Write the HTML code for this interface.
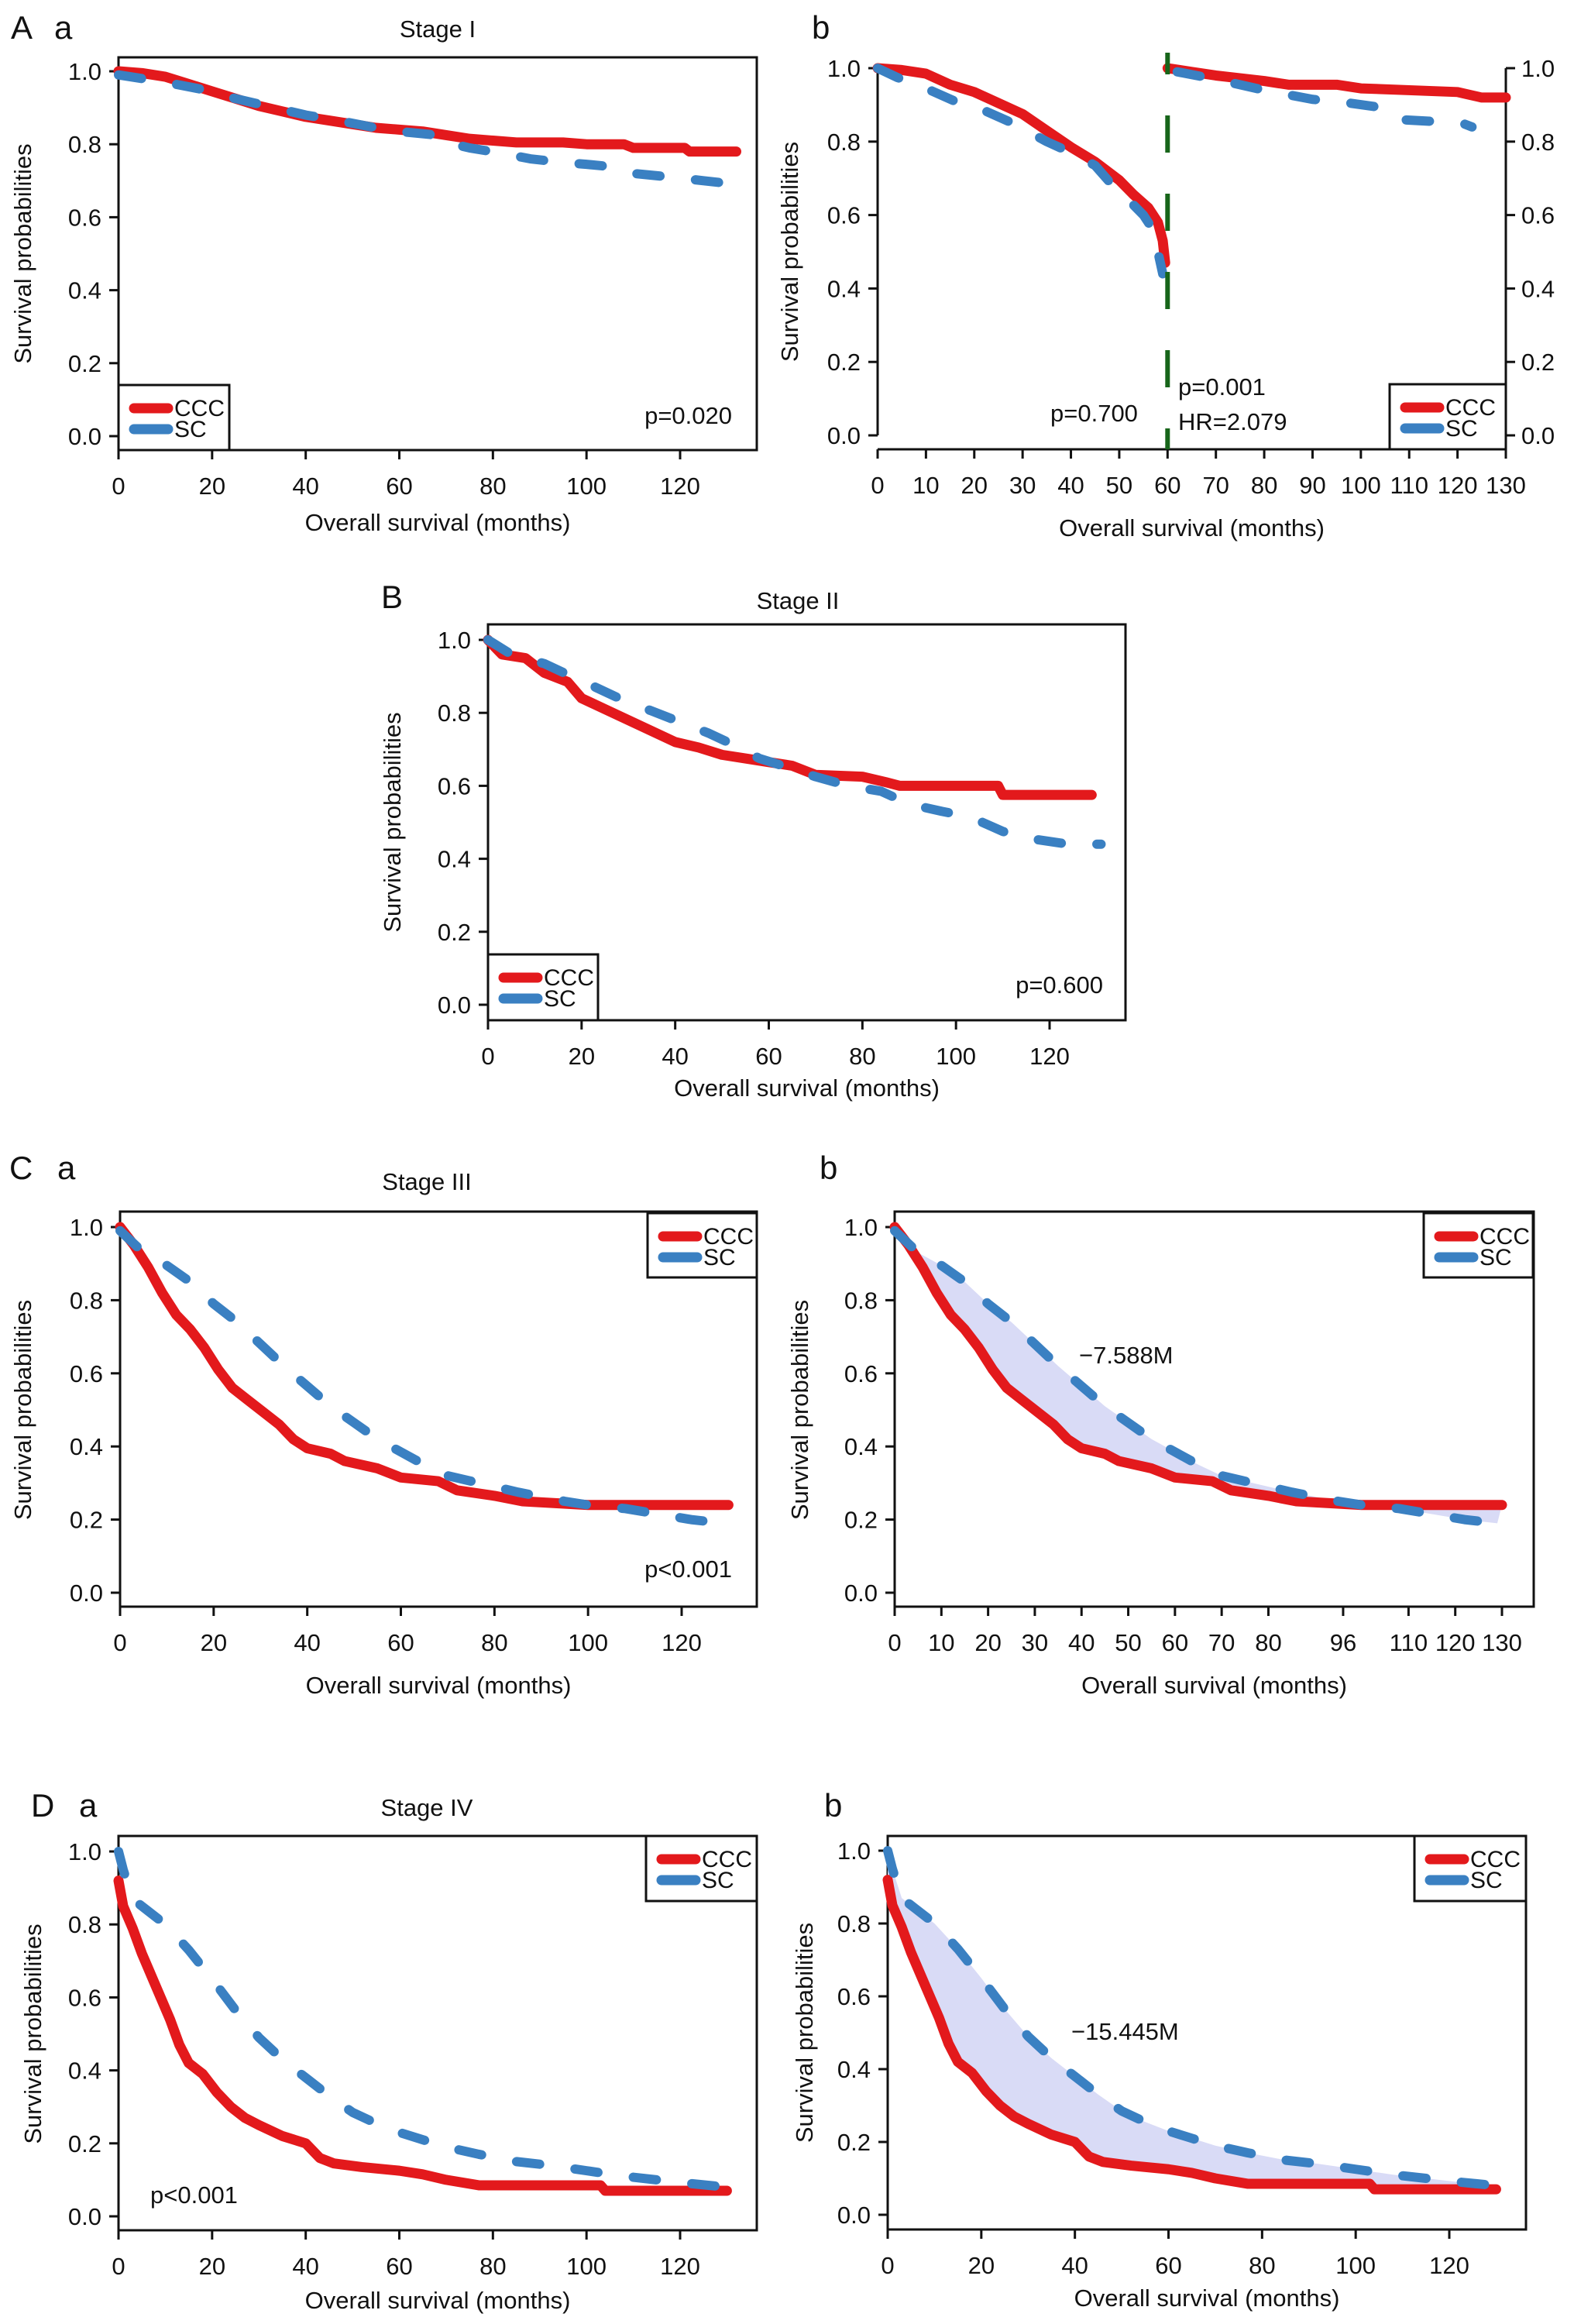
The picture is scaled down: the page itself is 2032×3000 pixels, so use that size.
<!DOCTYPE html>
<html><head><meta charset="utf-8"><style>
html,body{margin:0;padding:0;background:#fff;}
svg{display:block;font-family:"Liberation Sans",Arial,sans-serif;}
</style></head><body>
<svg id="fig" width="2032" height="3000" viewBox="0 0 2032 3000" xmlns="http://www.w3.org/2000/svg">
<rect x="0" y="0" width="2032" height="3000" fill="#fff"/>
<g font-size="42" fill="#111">
<text x="14" y="50">A</text>
<text x="70" y="50">a</text>
<text x="1048" y="50">b</text>
<text x="492" y="785">B</text>
<text x="12" y="1522">C</text>
<text x="74" y="1522">a</text>
<text x="1058" y="1522">b</text>
<text x="40" y="2345">D</text>
<text x="102" y="2345">a</text>
<text x="1064" y="2345">b</text>
</g>
<g font-size="31" fill="#111" text-anchor="middle">
<text x="565" y="48">Stage I</text>
<text x="1030" y="786">Stage II</text>
<text x="551" y="1536">Stage III</text>
<text x="551" y="2344">Stage IV</text>
</g>
<g id="plots"></g>
</svg>
<script>
// ---------- data (months, survival probability) ----------
const aaCccT=[0,5,10,15,20,25,30,35,40,45,50,55,60,65,70,75,80,85,90,95,100,108,110,121,122,132];
const aaCccS=[1,0.995,0.985,0.965,0.945,0.925,0.905,0.89,0.875,0.865,0.855,0.845,0.84,0.835,0.825,0.815,0.81,0.805,0.805,0.805,0.8,0.8,0.79,0.79,0.78,0.78];
const aaScT=[0,5,12,18,25,30,35,40,47,55,60,68,70,75,82,88,95,100,104,110,118,125,132];
const aaScS=[0.99,0.98,0.965,0.95,0.925,0.91,0.895,0.88,0.865,0.845,0.835,0.825,0.805,0.79,0.775,0.76,0.75,0.745,0.74,0.72,0.71,0.7,0.69];

const abCcc1T=[0,5,10,15,20,25,30,35,40,45,50,53,56,58,59,59.5];
const abCcc1S=[1,0.995,0.985,0.955,0.935,0.905,0.875,0.83,0.785,0.745,0.695,0.655,0.62,0.58,0.53,0.47];
const abSc1T=[0,4,10,16,22,28,35,40,45,48,52,55,57,59];
const abSc1S=[1,0.975,0.945,0.91,0.885,0.85,0.8,0.77,0.735,0.69,0.64,0.6,0.56,0.44];
const abCcc2T=[60,65,70,80,85,95,100,110,120,125,130];
const abCcc2S=[1,0.99,0.98,0.965,0.955,0.955,0.945,0.94,0.935,0.92,0.92];
const abSc2T=[62,68,75,80,90,95,103,108,115,121,123];
const abSc2S=[0.99,0.975,0.955,0.94,0.915,0.91,0.895,0.86,0.855,0.85,0.84];

const bCccT=[0,3,8,12,17,20,25,30,35,40,45,50,55,60,65,70,80,85,88,109,110,129];
const bCccS=[1,0.96,0.95,0.91,0.885,0.84,0.81,0.78,0.75,0.72,0.705,0.685,0.675,0.665,0.655,0.63,0.625,0.61,0.6,0.6,0.575,0.575];
const bScT=[0,5,12,17,23,28,35,40,47,52,58,63,70,77,84,90,97,103,110,116,124,131];
const bScS=[1,0.96,0.935,0.905,0.87,0.84,0.805,0.78,0.745,0.715,0.675,0.655,0.625,0.6,0.585,0.55,0.53,0.515,0.475,0.455,0.44,0.44];

const cCccT=[0,3,6,9,12,15,18,21,24,27,30,34,37,40,45,48,55,60,68,72,80,86,100,130];
const cCccS=[1,0.95,0.89,0.82,0.76,0.72,0.67,0.61,0.56,0.53,0.5,0.46,0.42,0.395,0.38,0.36,0.34,0.315,0.305,0.28,0.265,0.25,0.24,0.24];
const cScT=[0,5,10,15,20,25,30,35,40,45,50,55,60,65,70,80,85,95,100,108,115,122,129];
const cScS=[0.99,0.93,0.895,0.85,0.79,0.74,0.68,0.62,0.565,0.51,0.465,0.42,0.385,0.35,0.32,0.29,0.275,0.25,0.24,0.23,0.215,0.2,0.19];

const dCccT=[0,1,3,5,7,9,11,13,15,18,21,24,27,30,35,40,43,46,52,60,65,70,77,103,104,130];
const dCccS=[0.92,0.85,0.79,0.72,0.66,0.6,0.54,0.47,0.42,0.39,0.34,0.3,0.27,0.25,0.22,0.2,0.16,0.145,0.135,0.125,0.115,0.1,0.085,0.085,0.07,0.07];
const dScT=[0,1,3,6,10,15,20,25,30,35,40,45,50,55,60,65,70,77,85,92,100,108,115,122,130,131];
const dScS=[1,0.95,0.87,0.84,0.8,0.73,0.65,0.565,0.49,0.43,0.38,0.33,0.285,0.255,0.23,0.21,0.19,0.17,0.15,0.14,0.125,0.11,0.1,0.09,0.08,0.06];

const yTicks=[0,0.2,0.4,0.6,0.8,1.0];
const yTickLabels=["0.0","0.2","0.4","0.6","0.8","1.0"];
const xTicks120=[0,20,40,60,80,100,120];
const xTicks130=[0,10,20,30,40,50,60,70,80,90,100,110,120,130];
const xTicksCb=[0,10,20,30,40,50,60,70,80,96,110,120,130];

const NS="http://www.w3.org/2000/svg";
const root=document.getElementById('plots');
function mk(tag,attrs,parent){const e=document.createElementNS(NS,tag);for(const k in attrs)e.setAttribute(k,attrs[k]);(parent||root).appendChild(e);return e;}
function txt(s,attrs,parent){const e=mk('text',attrs,parent);e.textContent=s;return e;}
const RED="#e3191c", BLUE="#3a80c2";

function panel(c){
  const g=mk('g',{});
  
  
  const sx=v=>c.x0+(v-c.xmin)*(c.x1-c.x0)/(c.xmax-c.xmin);
  const sy=v=>c.y0-(v)*(c.y0-c.y1);
  c.sx=sx;c.sy=sy;
  const ff='#111';
  if(c.box){
    const r=mk('rect',{x:c.bl,y:c.bt,width:c.br-c.bl,height:c.bb-c.bt,fill:'none',stroke:ff,'stroke-width':3},g);
    
    
  } else {
    const ax=mk('line',{x1:c.x0,y1:c.bb,x2:c.x1,y2:c.bb,stroke:ff,'stroke-width':3},g);
    
    
    const ay=mk('line',{x1:c.bl,y1:c.y1,x2:c.bl,y2:c.y0,stroke:ff,'stroke-width':3},g);
    
    
    const ay2=mk('line',{x1:c.br,y1:c.y1,x2:c.br,y2:c.y0,stroke:ff,'stroke-width':3},g);
    
    
    yTicks.forEach((v,i)=>{
      const t=mk('line',{x1:c.br,y1:sy(v),x2:c.br+12,y2:sy(v),stroke:ff,'stroke-width':3},g);
      
      
      const l=txt(yTickLabels[i],{x:c.br+20,y:sy(v)+11,'font-size':31,fill:ff},g);
      
      
    });
  }
  yTicks.forEach((v,i)=>{
    const t=mk('line',{x1:c.bl-12,y1:sy(v),x2:c.bl,y2:sy(v),stroke:ff,'stroke-width':3},g);
    
    
    const l=txt(yTickLabels[i],{x:c.bl-22,y:sy(v)+11,'font-size':31,fill:ff,'text-anchor':'end'},g);
    
    
  });
  c.xticks.forEach(v=>{
    const t=mk('line',{x1:sx(v),y1:c.bb,x2:sx(v),y2:c.bb+12,stroke:ff,'stroke-width':3},g);
    
    
    const l=txt(String(v),{x:sx(v),y:c.bb+57,'font-size':31,fill:ff,'text-anchor':'middle'},g);
    
    
  });
  const yt=txt('Survival probabilities',{x:0,y:0,'font-size':31,fill:ff,'text-anchor':'middle',transform:`translate(${c.ytx},${(c.y0+c.y1)/2}) rotate(-90)`},g);
  
  
  const xt=txt('Overall survival (months)',{x:(c.bl+c.br)/2,y:c.bb+c.xto,'font-size':31,fill:ff,'text-anchor':'middle'},g);
  
  
  if(c.shade){
    const [st,ss,ct,cs]=c.shade;
    let pts=st.map((t,i)=>sx(t)+','+sy(ss[i]));
    for(let i=ct.length-1;i>=0;i--)pts.push(sx(ct[i])+','+sy(cs[i]));
    const p=mk('polygon',{points:pts.join(' '),fill:'#d9dbf6',stroke:'none'},g);
    
    
  }
  (c.series||[]).forEach(s=>{
    const pts=s.t.map((t,i)=>sx(t)+','+sy(s.s[i])).join(' ');
    const attrs={points:pts,fill:'none',stroke:s.blue?BLUE:RED,'stroke-width':s.blue?12:13,'stroke-linejoin':'round','stroke-linecap':'round'};
    if(s.blue)attrs['stroke-dasharray']='30 46';
    const pl=mk('polyline',attrs,g);
    
    
  });
  const L=c.leg;
  const lb=mk('rect',{x:L[0],y:L[1],width:L[2]-L[0],height:L[3]-L[1],fill:'#fff',stroke:ff,'stroke-width':3},g);
  
  
  const l1=mk('line',{x1:L[0]+20,y1:L[1]+30,x2:L[0]+64,y2:L[1]+30,stroke:RED,'stroke-width':13,'stroke-linecap':'round'},g);
  
  
  const l2=mk('line',{x1:L[0]+20,y1:L[1]+57,x2:L[0]+64,y2:L[1]+57,stroke:BLUE,'stroke-width':13,'stroke-linecap':'round'},g);
  
  
  const t1=txt('CCC',{x:L[0]+72,y:L[1]+40,'font-size':30,fill:ff},g);
  
  
  const t2=txt('SC',{x:L[0]+72,y:L[1]+67,'font-size':30,fill:ff},g);
  
  
  (c.notes||[]).forEach(n=>{
    const e=txt(n[0],{x:n[1],y:n[2],'font-size':31,fill:ff,'text-anchor':n[3]||'start'},g);
    
    
  });
  return c;
}

panel({name:'panel-stage-i',box:true,bl:153,br:977,bt:74,bb:581,x0:153,x1:878,xmin:0,xmax:120,y0:563,y1:92,
  xticks:xTicks120,ytx:40,xto:104,leg:[153,497,296,581],
  series:[{t:aaCccT,s:aaCccS},{t:aaScT,s:aaScS,blue:true}],
  notes:[['p=0.020',945,547,'end','p-value']]});

const ab=panel({name:'panel-stage-i-landmark',box:false,bl:1133,br:1944,bt:87,bb:580,x0:1133,x1:1944,xmin:0,xmax:130,y0:562,y1:88,
  xticks:xTicks130,ytx:1030,xto:112,leg:[1794,496,1944,580],
  series:[{t:abCcc1T,s:abCcc1S},{t:abSc1T,s:abSc1S,blue:true},{t:abCcc2T,s:abCcc2S},{t:abSc2T,s:abSc2S,blue:true}],
  notes:[['p=0.700',1356,544,'start','p-value-before-60'],['p=0.001',1521,510,'start','p-value-after-60'],['HR=2.079',1521,555,'start','hazard-ratio']]});
(function(){const gl=mk('line',{x1:ab.sx(60),y1:68,x2:ab.sx(60),y2:580,stroke:'#17651a','stroke-width':6,'stroke-dasharray':'48 53','stroke-dashoffset':'20'});

})();

panel({name:'panel-stage-ii',box:true,bl:630,br:1453,bt:806,bb:1317,x0:630,x1:1355,xmin:0,xmax:120,y0:1297,y1:826,
  xticks:xTicks120,ytx:517,xto:98,leg:[630,1232,772,1317],
  series:[{t:bCccT,s:bCccS},{t:bScT,s:bScS,blue:true}],
  notes:[['p=0.600',1424,1282,'end','p-value']]});

panel({name:'panel-stage-iii',box:true,bl:155,br:977,bt:1564,bb:2074,x0:155,x1:880,xmin:0,xmax:120,y0:2056,y1:1584,
  xticks:xTicks120,ytx:40,xto:112,leg:[836,1566,977,1649],
  series:[{t:cCccT,s:cCccS},{t:cScT,s:cScS,blue:true}],
  notes:[['p<0.001',945,2036,'end','p-value']]});

panel({name:'panel-stage-iii-rmst',box:true,bl:1155,br:1980,bt:1564,bb:2074,x0:1155,x1:1939,xmin:0,xmax:130,y0:2056,y1:1584,
  xticks:xTicksCb,ytx:1043,xto:112,leg:[1838,1566,1979,1649],
  shade:[cScT,cScS,cCccT,cCccS],
  series:[{t:cCccT,s:cCccS},{t:cScT,s:cScS,blue:true}],
  notes:[['\u22127.588M',1393,1760,'start','rmst-difference']]});

panel({name:'panel-stage-iv',box:true,bl:153,br:977,bt:2370,bb:2879,x0:153,x1:878,xmin:0,xmax:120,y0:2861,y1:2390,
  xticks:xTicks120,ytx:53,xto:101,leg:[834,2370,977,2454],
  series:[{t:dCccT,s:dCccS},{t:dScT,s:dScS,blue:true}],
  notes:[['p<0.001',194,2844,'start','p-value']]});

panel({name:'panel-stage-iv-rmst',box:true,bl:1146,br:1970,bt:2370,bb:2878,x0:1146,x1:1871,xmin:0,xmax:120,y0:2859,y1:2389,
  xticks:xTicks120,ytx:1049,xto:99,leg:[1826,2370,1970,2454],
  shade:[dScT,dScS,dCccT,dCccS],
  series:[{t:dCccT,s:dCccS},{t:dScT,s:dScS,blue:true}],
  notes:[['\u221215.445M',1383,2633,'start','rmst-difference']]});
</script>
</body></html>
